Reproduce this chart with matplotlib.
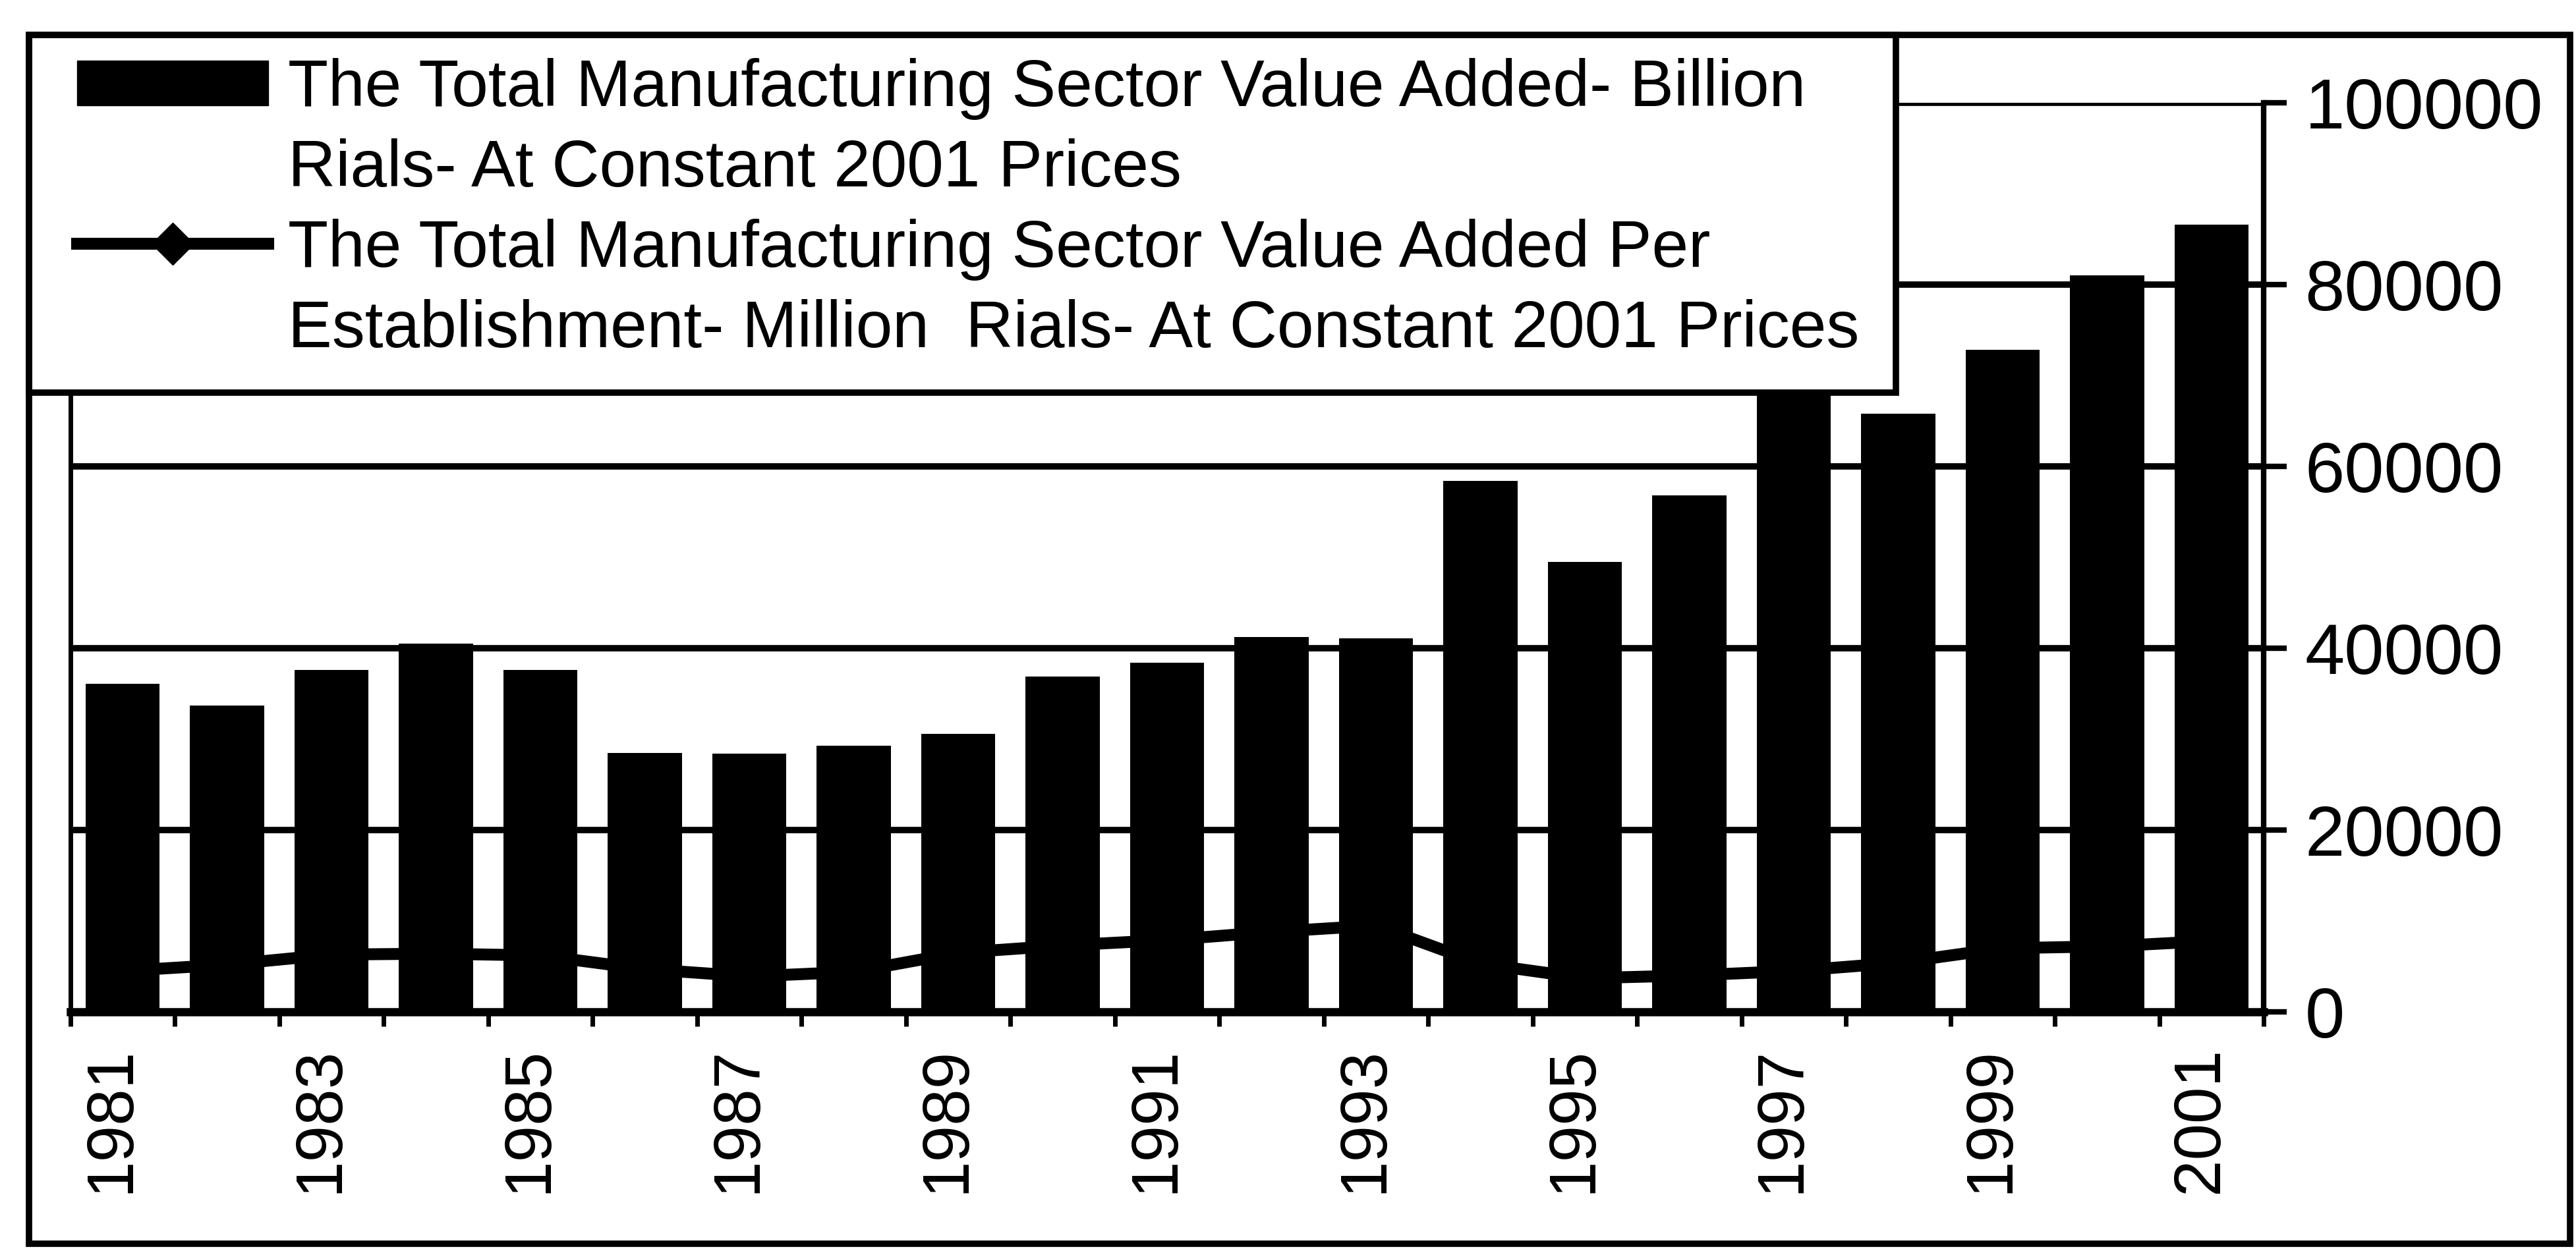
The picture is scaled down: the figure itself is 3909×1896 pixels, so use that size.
import numpy as np
import matplotlib
matplotlib.use("Agg")
import matplotlib.pyplot as plt
import matplotlib.transforms as mtransforms
from matplotlib.patches import Rectangle
from matplotlib.lines import Line2D

years = [1981, 1982, 1983, 1984, 1985, 1986, 1987, 1988, 1989, 1990, 1991,
         1992, 1993, 1994, 1995, 1996, 1997, 1998, 1999, 2000, 2001]

# billion rials, constant 2001 prices
value_added = [36100, 33700, 37600, 40500, 37600, 28500, 28400, 29300, 30600,
               36900, 38400, 41200, 41100, 58400, 49500, 56800, 69500, 65800,
               72800, 81000, 86600]

# million rials per establishment, constant 2001 prices
per_establishment = [4500, 5200, 6300, 6400, 6200, 4700, 3900, 4400, 6500,
                     7300, 7900, 8800, 9500, 5300, 3700, 4000, 4500, 5400,
                     7000, 7200, 7800]

y_ticks = [0, 20000, 40000, 60000, 80000, 100000]

legend_labels = [
    "The Total Manufacturing Sector Value Added- Billion",
    "Rials- At Constant 2001 Prices",
    "The Total Manufacturing Sector Value Added Per",
    "Establishment- Million  Rials- At Constant 2001 Prices",
]

W, H = 3909, 1896
plt.rcParams['font.family'] = ['Liberation Sans', 'DejaVu Sans']
fig = plt.figure(figsize=(W / 100, H / 100), dpi=100)


def fx(px):
    return px / W


def fy(py):
    return 1 - py / H


ax = fig.add_axes([fx(107), fy(1536), fx(3435) - fx(107), fy(156) - fy(1536)])
x = np.arange(len(years))

ax.plot(x, per_establishment, color='black', lw=13, marker='D', ms=33, zorder=2)
ax.bar(x, value_added, width=0.71, color='black', zorder=3)

ax.set_xlim(-0.5, len(years) - 0.5)
ax.set_ylim(0, 100000)

# y axis on the right with horizontal grid
ax.yaxis.tick_right()
ax.set_yticks(y_ticks)
ax.set_yticklabels([str(v) for v in y_ticks], fontsize=78)
ax.yaxis.grid(True, color='black', lw=7)
ax.set_axisbelow(True)
ax.tick_params(axis='y', length=25, width=6, pad=20, direction='out')

# tick marks between categories, year labels every other category
ax.set_xticks(np.arange(len(years) + 1) - 0.5)
ax.set_xticklabels([])
ax.set_xticks(x, minor=True)
ax.set_xticklabels([str(y) if (y - years[0]) % 2 == 0 else '' for y in years],
                   minor=True, rotation=90, fontsize=72)
ax.tick_params(axis='x', which='major', length=16, width=5, direction='out')
ax.tick_params(axis='x', which='minor', length=0, pad=38)
shift = mtransforms.ScaledTranslation(-0.17, 0, fig.dpi_scale_trans)
for lbl in ax.get_xticklabels(minor=True):
    lbl.set_transform(lbl.get_transform() + shift)

ax.spines['top'].set_visible(False)
ax.spines['left'].set_linewidth(5)
ax.spines['right'].set_linewidth(6)
ax.spines['bottom'].set_linewidth(9)

# outer border and legend box
fig.add_artist(Rectangle((fx(44), fy(1888)), fx(3900) - fx(44), fy(53) - fy(1888),
                         transform=fig.transFigure, fill=False, ec='black',
                         lw=7, zorder=4))
fig.add_artist(Rectangle((fx(44), fy(596)), fx(2877) - fx(44), fy(53) - fy(596),
                         transform=fig.transFigure, fc='white', ec='black',
                         lw=7, zorder=3))

bar_handle = Rectangle((0, 0), 1, 1, fc='black', ec='black')
line_handle = Line2D([], [], color='black', lw=13, marker='D', ms=33)
blank = Line2D([], [], color='none')
fig.legend([bar_handle, blank, line_handle, blank], legend_labels,
           loc='upper left', bbox_to_anchor=(fx(117), fy(88)),
           frameon=False, borderpad=0, borderaxespad=0, fontsize=72,
           handlelength=2.9, handleheight=0.67, handletextpad=0.3,
           labelspacing=0.28)

fig.savefig("out.png", dpi=100, facecolor='white')
